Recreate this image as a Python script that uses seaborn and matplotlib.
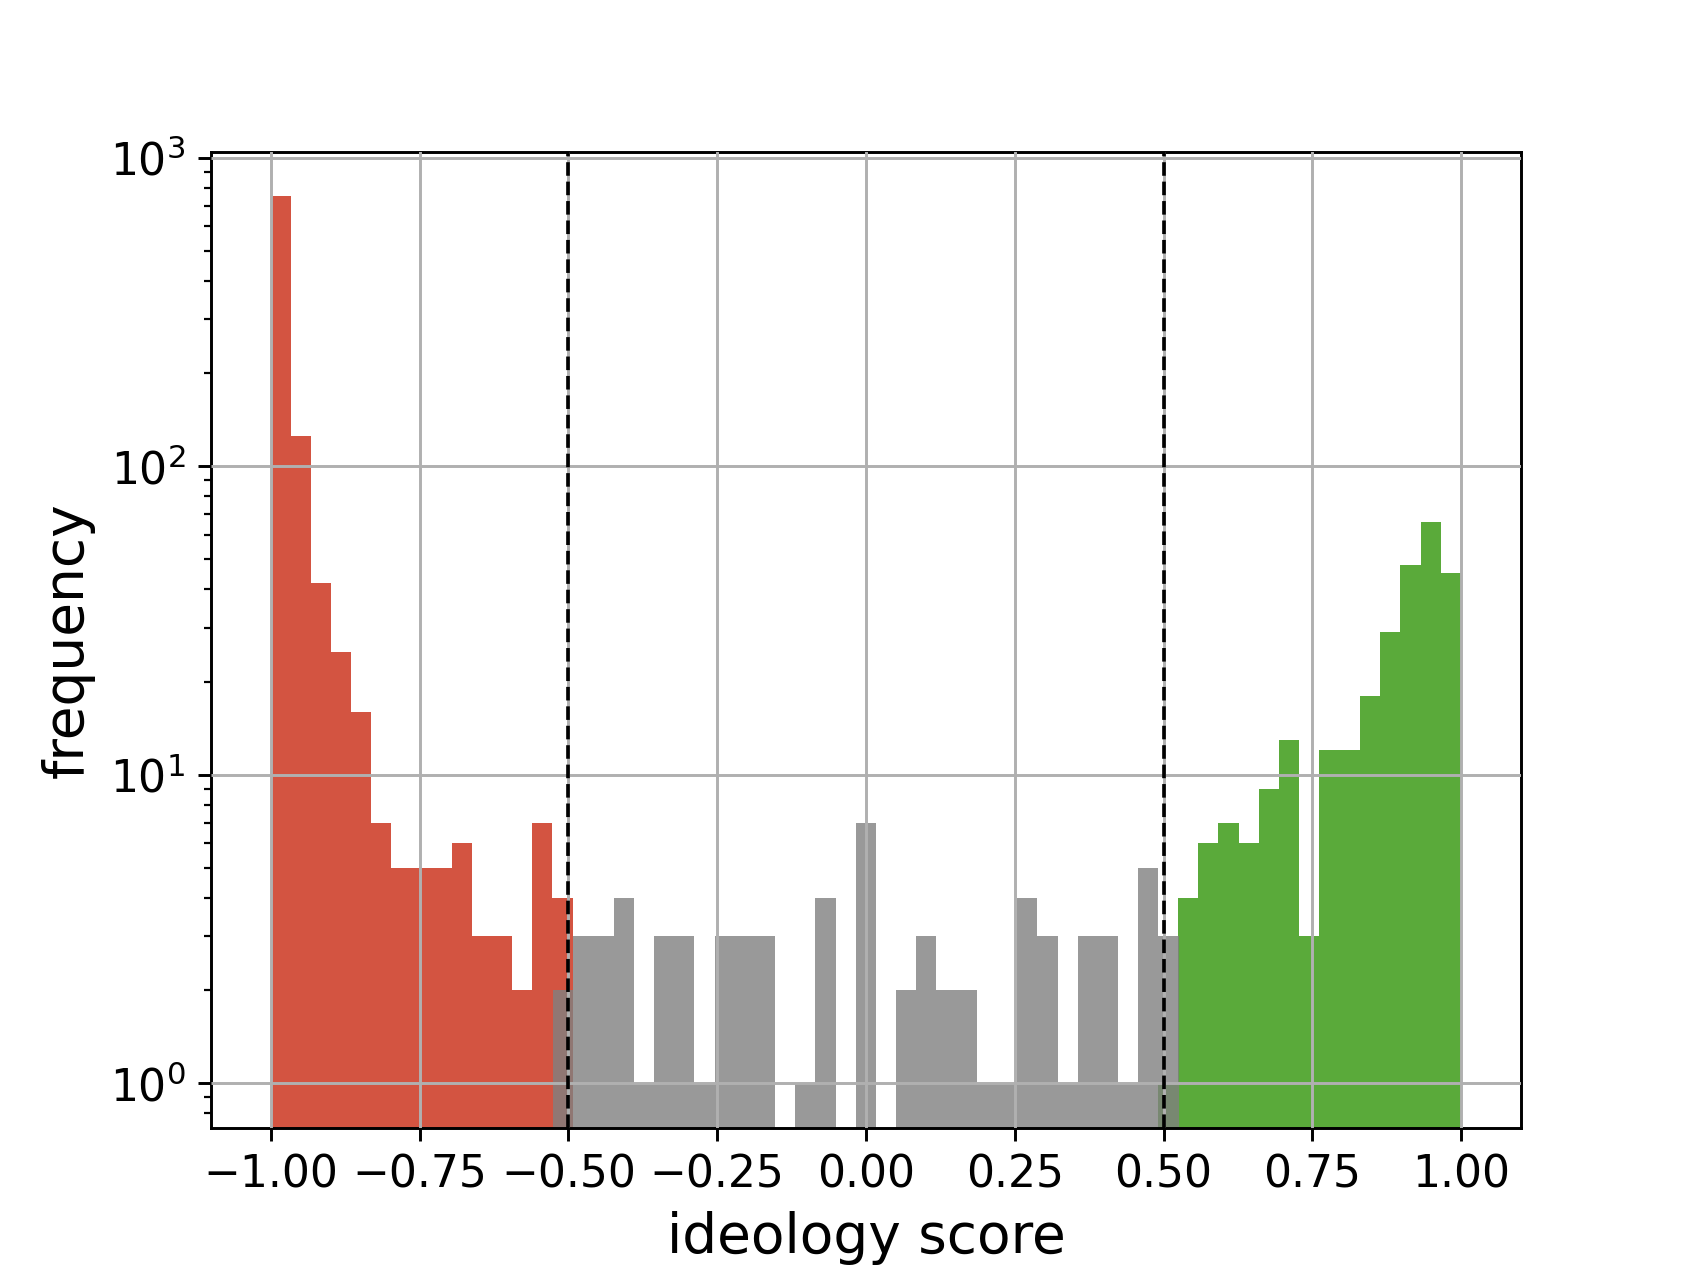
import numpy as np
import pandas as pd
import matplotlib
matplotlib.use("Agg")
import matplotlib.pyplot as plt
import seaborn as sns

# ---- data ----
red_range = (-1.0, -0.4929)
red_counts = [751, 125, 42, 25, 16, 7, 5, 5, 5, 6, 3, 3, 2, 7, 4]

gray_range = (-0.5254, 0.5253)
gray_counts = [2, 3, 3, 4, 1, 3, 3, 1, 3, 3, 3, 0, 1, 4, 0, 7, 0, 2, 3, 2,
               2, 1, 1, 4, 3, 1, 3, 3, 1, 5, 3]

green_range = (0.49, 1.0)
green_counts = [1, 4, 6, 7, 6, 9, 13, 3, 12, 12, 18, 29, 48, 66, 45]

thresholds = [-0.5, 0.5]

plt.rcParams["font.family"] = ["DejaVu Sans"]

fig, ax = plt.subplots(figsize=(6.4, 4.8), dpi=264)
ax.set_yscale("log")


def draw(rng, counts, color, alpha):
    edges = np.linspace(rng[0], rng[1], len(counts) + 1)
    df = pd.DataFrame({"score": (edges[:-1] + edges[1:]) / 2,
                       "n": np.asarray(counts, dtype=float)})
    sns.histplot(data=df, x="score", weights="n", bins=edges.tolist(),
                 color=color, alpha=alpha, linewidth=0, ax=ax)


draw(red_range, red_counts, "#d35441", 1.0)
draw(green_range, green_counts, "#5aaa3a", 1.0)
draw(gray_range, gray_counts, "gray", 0.8)

for t in thresholds:
    ax.axvline(t, color="black", linestyle="--", linewidth=1, zorder=3)

ax.set_axisbelow(False)
ax.grid(True, color="#b0b0b0", linewidth=0.8)
ax.set_xlim(-1.1, 1.1)
ax.set_xticks([-1.0, -0.75, -0.5, -0.25, 0.0, 0.25, 0.5, 0.75, 1.0])
ax.tick_params(axis="both", which="major", labelsize=12)
ax.set_xlabel("ideology score", fontsize=15)
ax.set_ylabel("frequency", fontsize=15)

fig.savefig("out.png", dpi=264)
